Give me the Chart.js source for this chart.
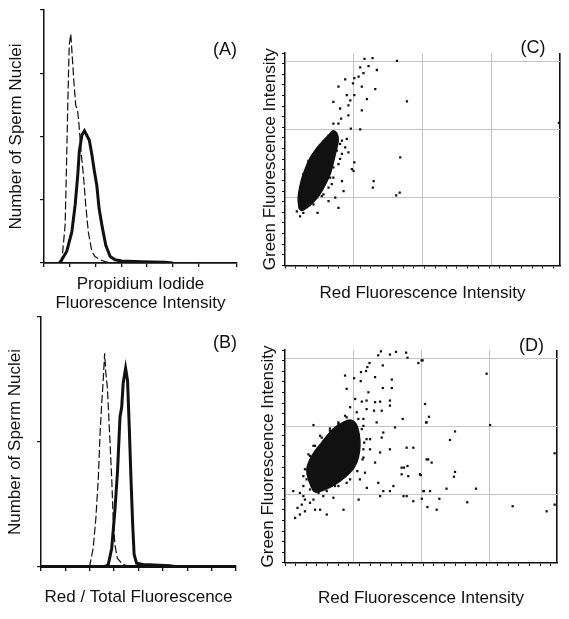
<!DOCTYPE html>
<html lang="en">
<head>
<meta charset="UTF-8">
<title>Sperm nuclei fluorescence</title>
<script src="https://cdn.jsdelivr.net/npm/chart.js@4"></script>
<style>
  body { margin: 0; background: #fff; }
  #wrap { position: relative; width: 569px; height: 619px; }
  #wrap canvas { position: absolute; left: 0; top: 0; }
</style>
</head>
<body>
<div id="wrap">
  <canvas id="chartA" width="569" height="619"></canvas>
  <canvas id="chartB" width="569" height="619"></canvas>
  <canvas id="chartC" width="569" height="619"></canvas>
  <canvas id="chartD" width="569" height="619"></canvas>
</div>
<script>
// (A) propidium iodide histograms: [intensity, count]
const aDashed = [[0.6,0],[0.69,2],[0.82,60],[0.88,166],[0.92,245],[0.95,297],[0.98,345],[1.04,362],[1.10,324],[1.17,281],[1.23,250],[1.31,239],[1.36,218],[1.44,176],[1.53,139],[1.62,92],[1.72,49],[1.86,18],[1.98,10],[2.18,5],[2.37,2],[2.6,0]];
const aSolid = [[0.6,0],[0.69,5],[0.88,18],[1.08,49],[1.21,92],[1.31,139],[1.37,176],[1.47,202],[1.57,209],[1.66,202],[1.76,194],[1.86,171],[1.96,144],[2.05,123],[2.14,86],[2.27,55],[2.40,28],[2.57,10],[2.76,5],[3.02,3],[3.8,2],[4.7,1],[5.0,0]];

// (B) red / total fluorescence histograms
const bDashed = [[1.95,0],[2.01,2],[2.14,15],[2.25,39],[2.35,71],[2.42,106],[2.49,131],[2.55,149],[2.61,171],[2.66,155],[2.72,144],[2.80,112],[2.90,71],[2.96,39],[3.03,18],[3.13,7],[3.31,3],[3.51,1],[3.7,0]];
const bSolid = [[0,0],[2.6,0],[2.76,2],[2.90,15],[3.03,45],[3.14,77],[3.24,120],[3.31,128],[3.37,147],[3.47,159],[3.55,149],[3.62,112],[3.69,71],[3.76,34],[3.82,10],[3.92,3],[4.19,2],[5.29,1],[5.6,0],[8,0]];

// (C) red vs green channels: outline of the dense cloud, then single events
const cCloud = [[52,215],[49,256],[60,317],[75,363],[93,404],[116,439],[138,465],[160,488],[179,507],[194,496],[198,469],[190,431],[179,385],[168,344],[149,302],[127,264],[104,237],[82,218],[63,207],[52,215]];
const cEvents = [[296,778],[326,781],[417,770],[280,746],[311,751],[342,736],[292,724],[274,711],[258,705],[224,701],[253,686],[286,673],[199,673],[336,664],[258,641],[230,641],[243,622],[180,616],[236,603],[305,626],[454,618],[205,591],[286,584],[236,565],[209,553],[199,534],[180,534],[245,515],[280,512],[230,477],[224,445],[212,420],[236,426],[205,401],[258,388],[249,363],[212,318],[255,356],[218,280],[330,318],[327,293],[429,407],[427,274],[414,264],[187,255],[199,217],[121,198],[56,185],[44,204],[162,242],[1020,537],[168,331],[180,369],[193,432],[174,306],[143,268],[106,230],[68,198],[205,458],[187,470],
  [212,470],[199,382],[180,331],[162,293],[137,261],[93,230],[59,242],[56,293],[68,344],[87,394],[131,451],[162,489]];

// (D) red vs green channels
const dCloud = [[107,270],[88,314],[82,352],[94,389],[113,421],[138,452],[163,484],[188,509],[219,528],[245,537],[267,522],[279,484],[282,440],[276,396],[260,358],[238,333],[207,307],[176,288],[144,273],[119,266],[107,270]];
const dEvents = [[361,795],[351,780],[395,783],[418,793],[456,790],[461,771],[502,751],[518,761],[318,751],[310,736],[305,721],[368,742],[286,717],[226,704],[260,694],[339,698],[285,683],[402,689],[232,654],[368,657],[402,657],[314,641],[264,616],[289,606],[307,610],[358,606],[339,604],[395,610],[245,585],[307,578],[335,572],[364,572],[395,591],[443,541],[533,528],[414,509],[107,518],[295,515],[345,528],[370,490],[320,465],[364,471],[395,427],[533,389],[458,433],[483,433],[320,427],[358,415],[295,396],[339,377],[439,358],[461,364],[448,358],[464,326],[439,333],[508,333],[408,289],[351,301],[308,282],[370,270],[395,270],[458,251],[483,232],[521,270],[446,251],[515,241],[277,238],[358,251],[31,270],[56,263],[69,251],[75,238],[63,219],[56,182],[132,200],[157,182],[113,200],[220,200],[38,169],[182,245],[188,289],[94,226],[69,289],[107,238],[47,207],[75,194],[514,761],[759,711],[527,597],[542,549],[531,528],[640,494],[621,462],[772,518],[539,389],[552,377],[511,330],[640,342],[636,324],[608,279],[719,279],[523,270],[546,270],[581,241],[686,228],[536,210],[571,200],[857,213],[985,194],[1015,412],[1015,219],[69,326],[100,289],[144,251],[232,301],[282,314],[301,339],[295,427],[307,465],[295,541],[270,566],[226,553],[201,528],[169,505],[132,478],[107,440],[88,408],
  [75,352],[81,314],[94,276],[126,263],[157,270],[201,289],[245,314],[272,345],[292,389],[298,452],[289,503],[276,541],[232,547],[201,522],[169,497],[138,471],[113,440],[94,402]];

const INK = '#111';
const FONT = '"Liberation Sans", Arial, Helvetica, sans-serif';
Chart.defaults.font.family = FONT;
Chart.defaults.color = INK;

const pts = arr => arr.map(p => ({ x: p[0], y: p[1] }));

// draws "(A)" etc. inside each panel
const panelLabel = {
  id: 'panelLabel',
  afterDraw(chart, args, opts) {
    const { ctx, chartArea } = chart;
    ctx.save();
    ctx.font = '18px ' + FONT;
    ctx.fillStyle = INK;
    ctx.textAlign = 'center';
    ctx.textBaseline = 'middle';
    ctx.fillText(opts.text, chartArea.right + opts.dx, chartArea.top + opts.dy);
    ctx.restore();
  }
};

function titleOpts(text, pad) {
  return { display: true, text: text, color: INK, font: { size: 17, lineHeight: 1.12 }, padding: pad };
}

function histChart(id, cfg) {
  return new Chart(document.getElementById(id), {
    type: 'line',
    data: {
      datasets: [
        { data: pts(cfg.solid), borderColor: INK, borderWidth: 3, pointRadius: 0, tension: 0 },
        { data: pts(cfg.dashed), borderColor: INK, borderWidth: 1.2, borderDash: [8, 3], pointRadius: 0, tension: 0 }
      ]
    },
    options: {
      responsive: false,
      animation: false,
      layout: { padding: cfg.pad },
      plugins: { legend: { display: false }, tooltip: { enabled: false }, panelLabel: cfg.label },
      scales: {
        x: {
          type: 'linear', min: 0, max: cfg.xMax,
          ticks: { display: false, stepSize: 1 },
          grid: { drawOnChartArea: false, tickLength: 4, color: INK, lineWidth: 1.3 },
          border: { color: INK, width: cfg.xBorder },
          title: titleOpts(cfg.xTitle, cfg.xTitlePad)
        },
        y: {
          min: 0, max: cfg.yMax,
          ticks: { display: false, stepSize: 100 },
          grid: { drawOnChartArea: false, tickLength: 4, color: INK, lineWidth: 1.2 },
          border: { color: INK, width: 1.5 },
          title: titleOpts('Number of Sperm Nuclei', cfg.yTitlePad)
        }
      }
    },
    plugins: [panelLabel]
  });
}

// minor ticks every 40 channels, grid every 256
function channelTicks(max) {
  return function (scale) {
    const vals = new Set();
    for (let v = 0; v <= max; v += 40) vals.add(v);
    for (let v = 256; v <= max; v += 256) vals.add(v);
    scale.ticks = [...vals].sort((a, b) => a - b).map(v => ({ value: v }));
  };
}

function channelGrid(max, edge) {
  return {
    drawOnChartArea: true,
    tickLength: 3,
    color: c => {
      const v = c.tick.value;
      if (v === max && edge) return INK;
      return (v > 0 && v % 256 === 0) ? '#c4c4c4' : 'rgba(0,0,0,0)';
    },
    lineWidth: c => (c.tick.value === max && edge) ? 1.6 : 1,
    tickColor: c => (c.tick.value % 40 === 0) ? INK : 'rgba(0,0,0,0)',
    tickWidth: 1
  };
}

function dotChart(id, cfg) {
  return new Chart(document.getElementById(id), {
    type: 'line',
    data: {
      datasets: [
        { data: pts(cfg.cloud), borderColor: INK, backgroundColor: INK, borderWidth: 1.5, fill: 'shape', pointRadius: 0, tension: 0.3 },
        { data: pts(cfg.events), showLine: false, pointStyle: 'rect', pointRadius: 1.6, pointBackgroundColor: INK, pointBorderWidth: 0 }
      ]
    },
    options: {
      responsive: false,
      animation: false,
      layout: { padding: cfg.pad },
      plugins: { legend: { display: false }, tooltip: { enabled: false }, panelLabel: cfg.label },
      scales: {
        x: {
          type: 'linear', min: 0, max: 1024,
          afterBuildTicks: channelTicks(1024),
          ticks: { display: false },
          grid: channelGrid(1024, true),
          border: { color: INK, width: 1.5 },
          title: titleOpts('Red Fluorescence Intensity', cfg.xTitlePad)
        },
        y: {
          type: 'linear', min: 0, max: 800,
          afterBuildTicks: channelTicks(800),
          ticks: { display: false },
          grid: channelGrid(800, false),
          border: { color: INK, width: 1.5 },
          title: titleOpts('Green Fluorescence Intensity', cfg.yTitlePad)
        }
      }
    },
    plugins: [panelLabel]
  });
}

histChart('chartA', {
  solid: aSolid, dashed: aDashed, xMax: 7.5, yMax: 400, xBorder: 1.8,
  pad: { left: 2, top: 10, right: 332, bottom: 306.5 },
  xTitle: ['Propidium Iodide', 'Fluorescence Intensity'],
  xTitlePad: { top: 7.5, bottom: 0 },
  yTitlePad: { top: 4.5, bottom: 14.5 },
  label: { text: '(A)', dx: -12, dy: 40 }
});

histChart('chartB', {
  solid: bSolid, dashed: bDashed, xMax: 8, yMax: 200, xBorder: 3,
  pad: { left: 2, top: 317, right: 333, bottom: 12.5 },
  xTitle: 'Red / Total Fluorescence',
  xTitlePad: { top: 16.5, bottom: 0 },
  yTitlePad: { top: 3.5, bottom: 12.5 },
  label: { text: '(B)', dx: -11, dy: 26 }
});

dotChart('chartC', {
  cloud: cCloud, events: cEvents,
  pad: { left: 256, top: 53, right: 9, bottom: 316.5 },
  xTitlePad: { top: 15, bottom: 0 },
  yTitlePad: { top: 4.5, bottom: 2.5 },
  label: { text: '(C)', dx: -27, dy: -4.5 }
});

dotChart('chartD', {
  cloud: dCloud, events: dEvents,
  pad: { left: 254, top: 350, right: 12, bottom: 11.5 },
  xTitlePad: { top: 22.5, bottom: 0 },
  yTitlePad: { top: 4.5, bottom: 4.5 },
  label: { text: '(D)', dx: -25.5, dy: -3.5 }
});
</script>
</body>
</html>
